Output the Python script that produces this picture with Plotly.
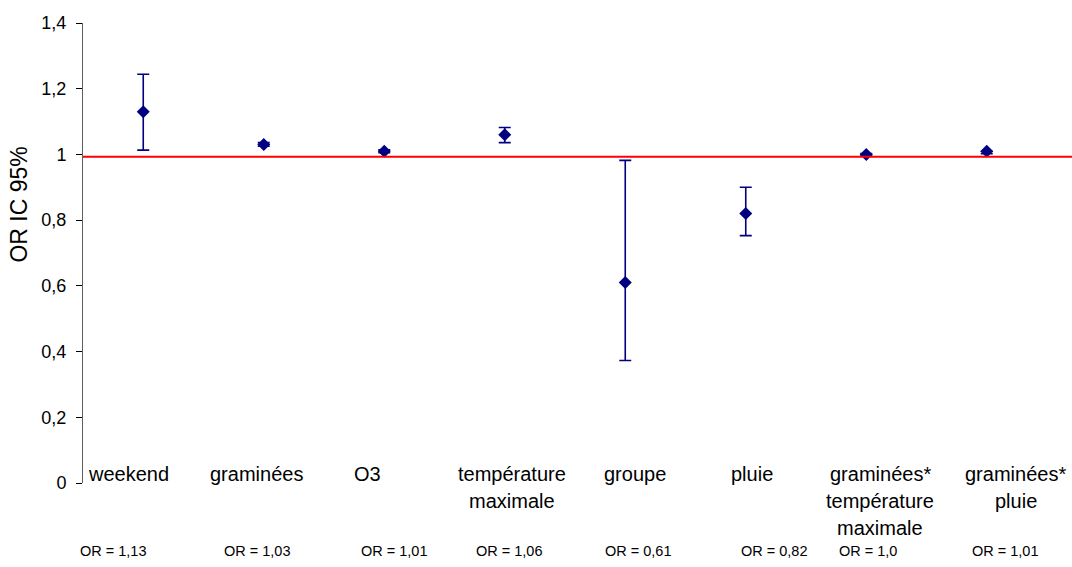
import plotly.graph_objects as go

# Odds ratios with 95% confidence intervals
categories = ["weekend", "graminées", "O3", "température maximale", "groupe",
              "pluie", "graminées* température maximale", "graminées* pluie"]
label_lines = [["weekend"], ["graminées"], ["O3"], ["température", "maximale"],
               ["groupe"], ["pluie"], ["graminées*", "température", "maximale"],
               ["graminées*", "pluie"]]
odds_ratio = [1.13, 1.03, 1.01, 1.06, 0.61, 0.82, 1.0, 1.01]
ci_low = [1.013, 1.025, 1.005, 1.036, 0.373, 0.753, 0.998, 1.002]
ci_high = [1.244, 1.036, 1.014, 1.082, 0.982, 0.900, 1.003, 1.009]
reference_level = 0.993

# horizontal nudges (px) of the category captions and OR captions
cat_shift = [-15, -7, -17, 7, 10, 6, 14, 29]
or_shift = [-30, -6, 10, 5, 13, 29, 2, 19]

x_pos = [i + 0.5 for i in range(len(categories))]
err_plus = [h - v for h, v in zip(ci_high, odds_ratio)]
err_minus = [v - l for v, l in zip(odds_ratio, ci_low)]

navy = "#000080"
fig = go.Figure()
fig.add_trace(go.Scatter(
    x=x_pos, y=odds_ratio, mode="markers",
    marker=dict(symbol="diamond", size=10, color=navy),
    error_y=dict(type="data", symmetric=False, array=err_plus,
                 arrayminus=err_minus, color=navy, thickness=1.6, width=6),
    cliponaxis=False, showlegend=False,
))

# red reference line across the plot
fig.add_shape(type="line", xref="paper", yref="y", x0=0, x1=1.03,
              y0=reference_level, y1=reference_level,
              line=dict(color="#ff0000", width=2))

font_family = "Liberation Sans, Arial, sans-serif"
annotations = []
for xp, lines, dx in zip(x_pos, label_lines, cat_shift):
    for k, line in enumerate(lines):
        annotations.append(dict(
            x=xp, y=0, xref="x", yref="y", text=line, showarrow=False,
            xanchor="center", yanchor="middle", xshift=dx, yshift=9.5 - 27 * k,
            font=dict(size=20, color="black", family=font_family)))
for xp, v, dx in zip(x_pos, odds_ratio, or_shift):
    annotations.append(dict(
        x=xp, y=0, xref="x", yref="y", text="OR = " + str(v).replace(".", ","),
        showarrow=False, xanchor="center", yanchor="middle", xshift=dx,
        yshift=-67.5, font=dict(size=14.5, color="black", family=font_family)))
annotations.append(dict(
    x=-0.066, y=0.606, xref="paper", yref="paper", text="OR IC 95%",
    textangle=-90, showarrow=False, xanchor="center", yanchor="middle",
    font=dict(size=23, color="black", family=font_family)))

fig.update_layout(
    width=1072, height=567,
    margin=dict(l=83, r=25, t=23, b=84, pad=0),
    paper_bgcolor="white", plot_bgcolor="white",
    separators=", ",
    font=dict(family=font_family, color="black"),
    annotations=annotations,
    xaxis=dict(range=[0, 8], showgrid=False, zeroline=False, showline=False,
               showticklabels=False, ticks=""),
    yaxis=dict(range=[0, 1.4], dtick=0.2, tick0=0, showgrid=False,
               zeroline=False, showline=True, linecolor="#606060", linewidth=1,
               ticks="outside", ticklen=6, tickcolor="black",
               ticklabelstandoff=6,
               tickfont=dict(size=18, color="black", family=font_family)),
)

fig.write_html("out.html")
